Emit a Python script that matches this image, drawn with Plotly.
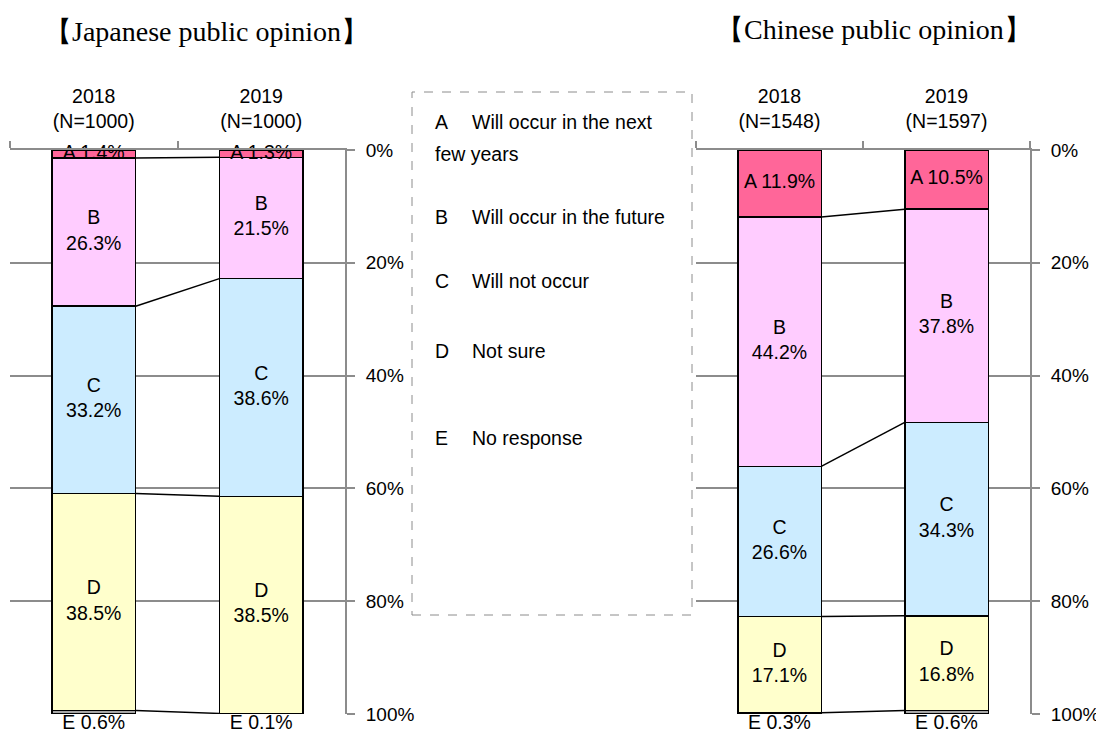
import plotly.graph_objects as go

# ---------------- data ----------------
years = ["2018", "2019"]
jp_n = [1000, 1000]
cn_n = [1548, 1597]
letters = ["A", "B", "C", "D", "E"]
legend_desc = ["Will occur in the next", "Will occur in the future", "Will not occur", "Not sure", "No response"]
legend_wrap = ["few years", "", "", "", ""]

jp_A = [1.4, 1.3]
jp_B = [26.3, 21.5]
jp_C = [33.2, 38.6]
jp_D = [38.5, 38.5]
jp_E = [0.6, 0.1]

cn_A = [11.9, 10.5]
cn_B = [44.2, 37.8]
cn_C = [26.6, 34.3]
cn_D = [17.1, 16.8]
cn_E = [0.3, 0.6]

y_ticks = [0, 20, 40, 60, 80, 100]
titles = ["【Japanese public opinion】", "【Chinese public opinion】"]

# ---------------- style ----------------
OFF = 8                     # default page body margin
W, H = 1104 - OFF, 738 - OFF
SANS = "Liberation Sans, Arial, sans-serif"
SERIF = "Liberation Serif, Times New Roman, serif"
GRAY = "#8C8C8C"
colors = ["#FF6699", "#FFCCFF", "#CCECFF", "#FFFFCC", "#A6A6A6"]
FS = 19.5


def px_x(p):
    return (p - OFF) / W


def px_y(p):
    return 1 - (p - OFF) / H


fig = go.Figure()

panels = [
    ("x", "y", [f"{y}<br>(N={n})" for y, n in zip(years, jp_n)], [jp_A, jp_B, jp_C, jp_D, jp_E]),
    ("x2", "y2", [f"{y}<br>(N={n})" for y, n in zip(years, cn_n)], [cn_A, cn_B, cn_C, cn_D, cn_E]),
]

shapes = []
for xa, ya, cats, series in panels:
    for letter, vals, col in zip(letters, series, colors):
        fig.add_trace(go.Bar(
            x=cats, y=vals, xaxis=xa, yaxis=ya, width=0.5,
            marker=dict(color=col, line=dict(color="black", width=1.5)),
            showlegend=False, hoverinfo="skip",
        ))
    cum = [0.0, 0.0]
    bounds = []
    for letter, vals in zip(letters, series):
        if letter == "E":
            ys = [100, 100]
            txt = [f"{letter} {v:.1f}%" for v in vals]
            pos = "bottom center"
        else:
            ys = [cum[i] + vals[i] / 2 for i in range(2)]
            if letter == "A":
                txt = [f"{letter} {v:.1f}%" for v in vals]
            else:
                txt = [f"{letter}<br>{v:.1f}%" for v in vals]
            pos = "middle center"
        fig.add_trace(go.Scatter(
            x=cats, y=ys, xaxis=xa, yaxis=ya, mode="text", text=txt,
            textposition=pos, textfont=dict(family=SANS, size=FS, color="black"),
            showlegend=False, hoverinfo="skip", cliponaxis=False,
        ))
        cum = [cum[i] + vals[i] for i in range(2)]
        if letter != "E":
            bounds.append(list(cum))
    for b in bounds:
        shapes.append(dict(type="line", xref=xa, yref=ya, x0=0.25, x1=0.75,
                           y0=b[0], y1=b[1], line=dict(color="black", width=1.5)))

xcommon = dict(type="category", side="top", showline=True, linecolor=GRAY, linewidth=2,
               ticks="outside", tickson="boundaries", ticklen=7, tickcolor=GRAY, tickwidth=2,
               showgrid=False, zeroline=False, ticklabelstandoff=12, automargin=False,
               tickfont=dict(family=SANS, size=FS, color="black"))
ycommon = dict(range=[100, 0], side="right", showline=True, linecolor=GRAY, linewidth=2,
               ticks="outside", ticklen=8, tickcolor=GRAY, tickwidth=2,
               showgrid=True, gridcolor=GRAY, gridwidth=2, zeroline=False,
               tickmode="array", tickvals=y_ticks, ticktext=[f"{v}%" for v in y_ticks],
               ticklabelstandoff=7, automargin=False,
               tickfont=dict(family=SANS, size=19, color="black"))

ydom = [px_y(714), px_y(150)]
fig.update_layout(
    xaxis=dict(domain=[px_x(10), px_x(345)], anchor="y", **xcommon),
    yaxis=dict(domain=ydom, anchor="x", **ycommon),
    xaxis2=dict(domain=[px_x(696), px_x(1030)], anchor="y2", **xcommon),
    yaxis2=dict(domain=ydom, anchor="x2", **ycommon),
)

# legend box (dashed)
shapes.append(dict(type="rect", xref="paper", yref="paper",
                   x0=px_x(412), x1=px_x(692), y0=px_y(615), y1=px_y(92),
                   line=dict(color=GRAY, width=1, dash="dash"), fillcolor="rgba(0,0,0,0)"))

annotations = []
leg_rows = [122, 217, 281, 351, 438]
for letter, desc, wrap, yy in zip(letters, legend_desc, legend_wrap, leg_rows):
    annotations.append(dict(xref="paper", yref="paper", x=px_x(433), y=px_y(yy), text=letter,
                            showarrow=False, xanchor="left", yanchor="middle",
                            font=dict(family=SANS, size=FS, color="black")))
    annotations.append(dict(xref="paper", yref="paper", x=px_x(470), y=px_y(yy), text=desc,
                            showarrow=False, xanchor="left", yanchor="middle",
                            font=dict(family=SANS, size=FS, color="black")))
    if wrap:
        annotations.append(dict(xref="paper", yref="paper", x=px_x(433), y=px_y(yy + 32), text=wrap,
                                showarrow=False, xanchor="left", yanchor="middle",
                                font=dict(family=SANS, size=FS, color="black")))

for t, cx, cy in zip(titles, [207, 874], [32, 30]):
    annotations.append(dict(xref="paper", yref="paper", x=px_x(cx), y=px_y(cy), text=t,
                            showarrow=False, xanchor="center", yanchor="middle",
                            font=dict(family=SERIF, size=28, color="black")))

fig.update_layout(
    width=W, height=H, margin=dict(l=0, r=0, t=0, b=0, autoexpand=False),
    barmode="stack", plot_bgcolor="white", paper_bgcolor="white",
    shapes=shapes, annotations=annotations, showlegend=False,
)

fig.write_html("out.html")
